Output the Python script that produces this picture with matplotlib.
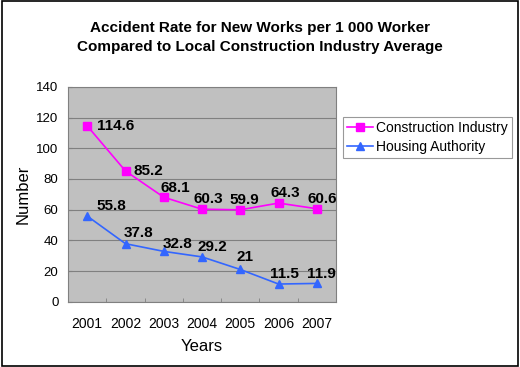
import numpy as np
import matplotlib.pyplot as plt
from matplotlib.patches import Rectangle

plt.rcParams['font.family'] = ['Liberation Sans', 'DejaVu Sans']

years = ["2001", "2002", "2003", "2004", "2005", "2006", "2007"]
construction = [114.6, 85.2, 68.1, 60.3, 59.9, 64.3, 60.6]
housing = [55.8, 37.8, 32.8, 29.2, 21, 11.5, 11.9]
construction_labels = ["114.6", "85.2", "68.1", "60.3", "59.9", "64.3", "60.6"]
housing_labels = ["55.8", "37.8", "32.8", "29.2", "21", "11.5", "11.9"]

# label offsets in points (dx, dy)
ci_off = [(7, 0), (6, 0), (-2, 7), (-6, 7), (-8, 7), (-6, 7), (-7, 7)]
ha_off = [(7, 7), (-1, 8), (-1, 5), (-3, 7), (-3, 9), (-6, 7), (-7, 7)]

fig = plt.figure(figsize=(5.2, 3.67), dpi=100)
ax = fig.add_axes([0.131, 0.178, 0.515, 0.585])
ax.set_facecolor('#C0C0C0')

x = np.arange(len(years))
ax.plot(x, construction, color='#FF00FF', marker='s', markersize=6, linewidth=1.2,
        label='Construction Industry', zorder=3)
ax.plot(x, housing, color='#3366FF', marker='^', markersize=6, linewidth=1.2,
        label='Housing Authority', zorder=3)

for i in range(len(years)):
    ax.annotate(construction_labels[i], (x[i], construction[i]), xytext=ci_off[i],
                textcoords='offset points', ha='left', va='center',
                fontsize=11, fontweight='bold')
    ax.annotate(housing_labels[i], (x[i], housing[i]), xytext=ha_off[i],
                textcoords='offset points', ha='left', va='center',
                fontsize=11, fontweight='bold')

ax.set_xlim(-0.5, 6.5)
ax.set_ylim(0, 140)
ax.set_yticks(np.arange(0, 141, 20))
ax.set_xticks(x)
ax.set_xticklabels(years)
ax.set_xticks(np.arange(-0.5, 7, 1), minor=True)
ax.tick_params(axis='x', which='major', length=0, labelsize=10, pad=11)
ax.tick_params(axis='x', which='minor', length=3, color='#808080', direction='in')
ax.tick_params(axis='y', length=3, color='#808080', direction='in', labelsize=9.5, pad=7)
ax.grid(axis='y', color='#808080', linewidth=0.8)
ax.set_axisbelow(True)
for s in ['top', 'right', 'left', 'bottom']:
    ax.spines[s].set_color('#808080')

ax.set_xlabel('Years', fontsize=12, labelpad=6)
ax.set_ylabel('Number', fontsize=12, labelpad=4)

fig.text(0.5, 0.898, 'Accident Rate for New Works per 1 000 Worker\nCompared to Local Construction Industry Average',
         ha='center', va='center', fontsize=11, fontweight='bold', linespacing=1.4)

leg = ax.legend(loc='upper left', bbox_to_anchor=(1.026, 0.86), borderaxespad=0,
                fontsize=10, frameon=True, fancybox=False, edgecolor='#808080',
                handlelength=1.9, borderpad=0.3, labelspacing=0.35, handletextpad=0.2)
leg.get_frame().set_linewidth(0.8)

fig.patches.append(Rectangle((0.003, 0.004), 0.994, 0.992, transform=fig.transFigure,
                             fill=False, edgecolor='black', linewidth=1.2))

fig.savefig('out.png', dpi=100)
